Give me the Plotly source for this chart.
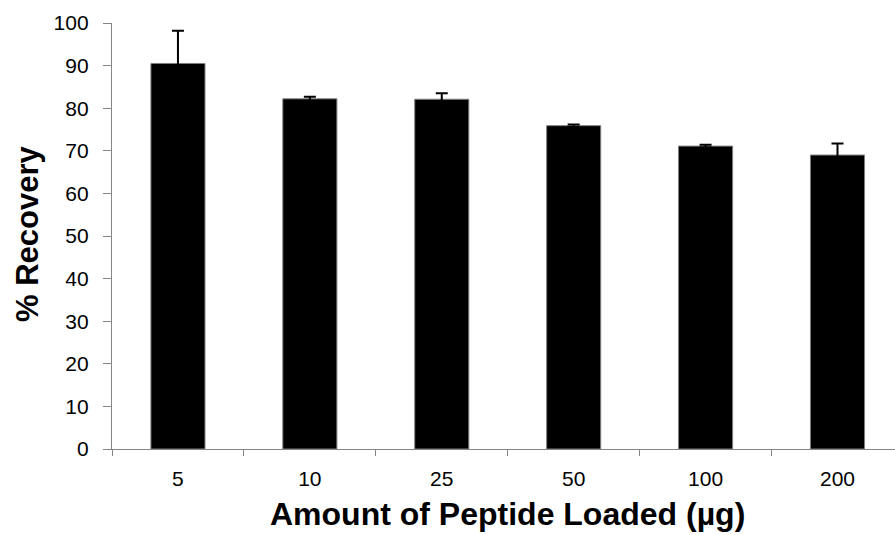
import plotly.graph_objects as go

categories = ["5", "10", "25", "50", "100", "200"]
recovery = [90.5, 82.2, 82.1, 75.9, 71.1, 69.0]
errors = [7.7, 0.5, 1.4, 0.3, 0.3, 2.7]
y_ticks = list(range(0, 101, 10))

AX = "#868686"
FONT = "Liberation Sans, Arial, sans-serif"

fig = go.Figure()
fig.add_trace(go.Bar(
    x=categories, y=recovery, width=0.41,
    marker=dict(color="black", line=dict(color="#7f7f7f", width=1)),
    error_y=dict(type="data", array=errors, color="black", thickness=2, width=6),
))

fig.update_layout(
    width=895, height=535,
    margin=dict(l=112, r=0, t=23, b=86),
    paper_bgcolor="white", plot_bgcolor="white",
    showlegend=False,
    font=dict(family=FONT, color="black"),
    xaxis=dict(
        type="category", range=[-0.5, 5.436],
        showline=True, linecolor=AX, linewidth=1.3,
        ticks="outside", tickson="boundaries", ticklen=6, tickcolor=AX, tickwidth=1.3,
        tickfont=dict(size=21, family=FONT, color="black"),
        ticklabelstandoff=11,
        showgrid=False, zeroline=False,
    ),
    yaxis=dict(
        range=[0, 100], tickvals=y_ticks,
        showline=True, linecolor=AX, linewidth=1.3,
        ticks="outside", ticklen=8, tickcolor=AX, tickwidth=1.3,
        tickfont=dict(size=21, family=FONT, color="black"),
        ticklabelstandoff=10,
        showgrid=False, zeroline=False,
    ),
    annotations=[
        dict(text="<b>Amount of Peptide Loaded (µg)</b>", xref="paper", yref="paper",
             x=(507 - 112) / 783, y=(449 - 514) / 426, xanchor="center", yanchor="middle",
             showarrow=False, font=dict(size=32, family=FONT, color="black")),
        dict(text="<b>% Recovery</b>", xref="paper", yref="paper",
             x=(27 - 112) / 783, y=(449 - 234) / 426, xanchor="center", yanchor="middle",
             textangle=-90, showarrow=False, font=dict(size=31, family=FONT, color="black")),
    ],
)

fig.write_html("out.html")
